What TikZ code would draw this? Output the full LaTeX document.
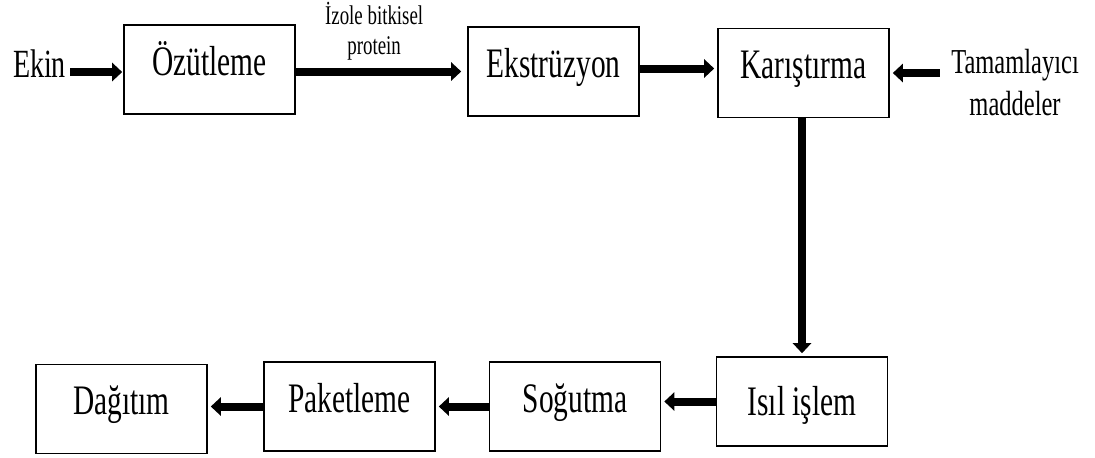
\documentclass[tikz,border=0pt]{standalone}
\usepackage{fontspec}
\setmainfont{Liberation Serif}[FakeStretch=0.7]
\usetikzlibrary{arrows.meta}

\begin{document}
\begin{tikzpicture}[x=0.5pt, y=-0.5pt,
    kutu/.style={draw, line width=0.8pt, minimum width=85.5pt, inner sep=0pt,
        text height=25pt, text depth=19.5pt, font=\fontsize{21}{25}\selectfont},
    ok/.style={line width=4pt, -{Triangle[length=5pt,width=9pt]}, shorten >=1.5pt}]
    \useasboundingbox (0,0) rectangle (1095,457);

    % ust sira
    \node[font=\fontsize{20}{24}\selectfont, inner xsep=2pt, inner ysep=0pt, anchor=base] (ekin) at (39.5,77) {Ekin};
    \node[kutu] (ozut) at (209.5,69.5) {Özütleme};
    \node[kutu] (ekst) at (553.5,71.5) {Ekstrüzyon};
    \node[kutu] (kar) at (803.5,73) {Karıştırma};
    \node[font=\fontsize{17.5}{21}\selectfont, align=center,
        inner xsep=5.5pt, inner ysep=0pt, anchor=north] (tam) at (1015,49) {Tamamlayıcı\\maddeler};

    % alt sira
    \node[kutu, text height=29pt, text depth=15.5pt] (isil) at (802,401.5) {Isıl işlem};
    \node[kutu] (sog) at (575,406.5) {Soğutma};
    \node[kutu] (pak) at (349.5,406.5) {Paketleme};
    \node[kutu] (dag) at (121.5,409) {Dağıtım};

    % oklar
    \draw[ok, shorten >=0.5pt] ([yshift=-1.25pt]ozut.west -| ekin.east) -- ([yshift=-1.25pt]ozut.west);
    \draw[ok, shorten >=3pt] ([yshift=-1pt]ozut.east) -- ([yshift=-1pt]ozut.east -| ekst.west)
        node[pos=0.457, above=3.5pt, inner sep=0pt, align=center, font=\fontsize{13.5}{15}\selectfont] {İzole bitkisel\\protein};
    \draw[ok] ([yshift=1.5pt]ekst.east) -- ([yshift=1.5pt]ekst.east -| kar.west);
    \draw[ok] (kar.east -| tam.west) -- (kar.east);
    \draw[ok] (isil.north |- kar.south) -- (isil.north);
    \foreach \a/\b in {isil/sog, sog/pak, pak/dag} {
        \draw[ok] (\a.west) -- (\a.west -| \b.east);
      }
\end{tikzpicture}
\end{document}
